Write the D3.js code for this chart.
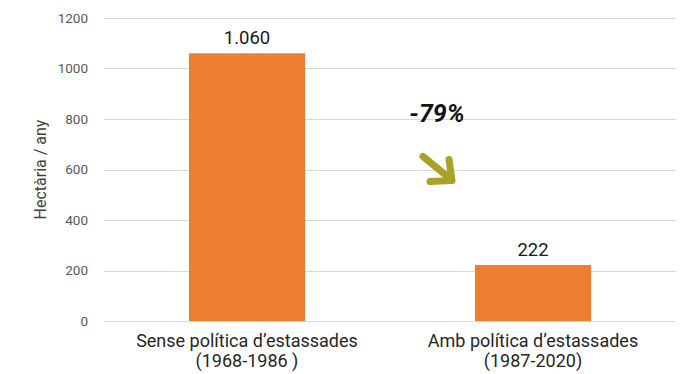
<!DOCTYPE html>
<html>
<head>
<meta charset="utf-8">
<script src="https://cdn.jsdelivr.net/npm/d3@7/dist/d3.min.js"></script>
<style>
  html, body { margin: 0; padding: 0; background: #fff; }
  svg { display: block; font-family: Roboto, "Noto Sans", sans-serif; }
</style>
</head>
<body>
<svg id="chart" width="687" height="374"></svg>
<script>
// Hectares burned per year, before and after the clearing policy
const categories = [
  ["Sense política d\u2019estassades", "(1968-1986 )"],
  ["Amb política d\u2019estassades", "(1987-2020)"]
];
const values = [1060, 222];
const valueLabels = ["1.060", "222"];
const yTicks = [0, 200, 400, 600, 800, 1000, 1200];
const changeLabel = "-79%";

const svg = d3.select("#chart");
const margin = { left: 104, right: 11, top: 18, bottom: 53 };
const W = 687, H = 374;

const x = d3.scaleBand()
  .domain(d3.range(values.length))
  .range([margin.left, W - margin.right])
  .paddingInner(0.594)
  .paddingOuter(0.297);

const y = d3.scaleLinear()
  .domain([0, 1200])
  .range([H - margin.bottom, margin.top]);

// Horizontal gridlines
svg.append("g")
  .selectAll("line")
  .data(yTicks)
  .join("line")
  .attr("x1", margin.left)
  .attr("x2", W - margin.right)
  .attr("y1", d => Math.round(y(d)) + 0.5)
  .attr("y2", d => Math.round(y(d)) + 0.5)
  .attr("stroke", "#d9d9d9")
  .attr("stroke-width", 1);

// Y axis tick labels
const yAxis = d3.axisLeft(y).tickValues(yTicks).tickFormat(d3.format("d"))
  .tickSize(0).tickPadding(16);
const gy = svg.append("g")
  .attr("transform", `translate(${margin.left},0)`)
  .call(yAxis);
gy.select(".domain").remove();
gy.selectAll("text")
  .attr("fill", "#595959")
  .style("font-size", "13.5px")
  .style("font-family", "Roboto, sans-serif");

// Y axis title
svg.append("text")
  .attr("transform", `translate(46,${(y(0) + y(1200)) / 2}) rotate(-90)`)
  .attr("text-anchor", "middle")
  .attr("fill", "#404040")
  .style("font-size", "16px")
  .text("Hectària / any");

// Bars
svg.append("g")
  .selectAll("rect")
  .data(values)
  .join("rect")
  .attr("x", (d, i) => x(i))
  .attr("width", x.bandwidth())
  .attr("y", d => y(d))
  .attr("height", d => y(0) - y(d))
  .attr("fill", "#ed7d31");

// Value labels above the bars
svg.append("g")
  .selectAll("text")
  .data(values)
  .join("text")
  .attr("x", (d, i) => x(i) + x.bandwidth() / 2)
  .attr("y", d => y(d) - 9)
  .attr("text-anchor", "middle")
  .attr("fill", "#1a1a1a")
  .style("font-size", "18.5px")
  .text((d, i) => valueLabels[i]);

// Category labels, two lines each
const cat = svg.append("g")
  .selectAll("text")
  .data(categories)
  .join("text")
  .attr("text-anchor", "middle")
  .attr("fill", "#262626")
  .style("font-size", "18px");
cat.each(function (lines, i) {
  const cx = x(i) + x.bandwidth() / 2;
  d3.select(this).selectAll("tspan")
    .data(lines)
    .join("tspan")
    .attr("x", cx)
    .attr("y", (l, j) => y(0) + 26 + j * 20)
    .text(l => l);
});

// Change annotation between the two bars
const midX = (x(0) + x.bandwidth() + x(1)) / 2;
svg.append("text")
  .attr("x", midX + 47)
  .attr("y", y(790))
  .attr("text-anchor", "middle")
  .attr("fill", "#111")
  .style("font-size", "25px")
  .style("font-weight", "bold")
  .style("font-style", "italic")
  .text(changeLabel);

// Downward arrow
const ax = midX + 47, ay = y(580);
const arrow = svg.append("g")
  .attr("fill", "none")
  .attr("stroke", "#aaa226")
  .attr("stroke-width", 7)
  .attr("stroke-linecap", "round")
  .attr("stroke-linejoin", "round");
arrow.append("line")
  .attr("x1", ax - 14).attr("y1", ay - 18)
  .attr("x2", ax + 13).attr("y2", ay + 4);
arrow.append("path")
  .attr("d", `M${ax + 12},${ay - 15} L${ax + 15},${ay + 6} L${ax - 7},${ay + 7}`);
</script>
</body>
</html>
